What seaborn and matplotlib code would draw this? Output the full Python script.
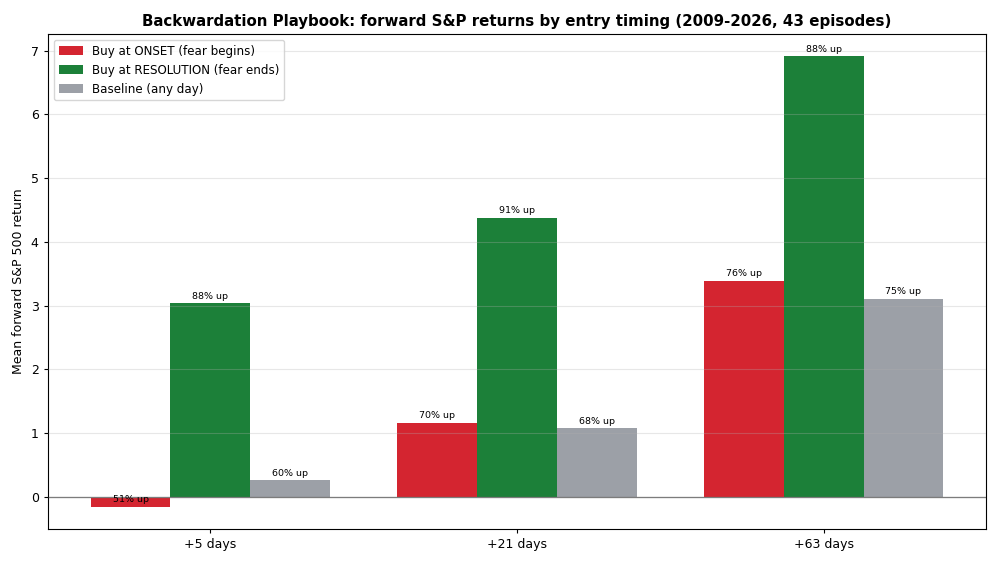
import pandas as pd
import matplotlib
matplotlib.use("Agg")
import matplotlib.pyplot as plt
import seaborn as sns

# ==============================
# DATA
# ==============================

horizons = ["+5 days", "+21 days", "+63 days"]
strategies = ["Buy at ONSET (fear begins)",
              "Buy at RESOLUTION (fear ends)",
              "Baseline (any day)"]

onset_ret = [-0.15, 1.16, 3.39]
resolution_ret = [3.04, 4.38, 6.91]
baseline_ret = [0.26, 1.08, 3.11]

onset_up = ["51% up", "70% up", "76% up"]
resolution_up = ["88% up", "91% up", "88% up"]
baseline_up = ["60% up", "68% up", "75% up"]

colors = ["#d42530", "#1c8039", "#9ca0a7"]

# ==============================
# TABLE LONGUE
# ==============================

rows = []
for strat, vals, ups in zip(strategies,
                            [onset_ret, resolution_ret, baseline_ret],
                            [onset_up, resolution_up, baseline_up]):
    for h, v, u in zip(horizons, vals, ups):
        rows.append({"horizon": h, "strategy": strat, "ret": v, "up": u})
df = pd.DataFrame(rows)

# ==============================
# FIGURE
# ==============================

fig, ax = plt.subplots(figsize=(10, 5.64), dpi=100)
fig.subplots_adjust(left=0.048, right=0.986, top=0.94, bottom=0.062)

sns.barplot(
    data=df, x="horizon", y="ret", hue="strategy",
    order=horizons, hue_order=strategies, palette=colors,
    width=0.78, gap=0, errorbar=None, saturation=1, ax=ax
)

# etiquettes "% up"
for strat, cont in zip(strategies, ax.containers):
    sub = df[df["strategy"] == strat].set_index("horizon").loc[horizons]
    for bar, v, u in zip(cont, sub["ret"], sub["up"]):
        ax.text(bar.get_x() + bar.get_width() / 2, v + 0.04, u,
                ha="center", va="bottom", fontsize=6.8)

ax.axhline(0, color="#666666", linewidth=0.9)
ax.grid(axis="y", alpha=0.3)
ax.set_axisbelow(False)
ax.set_xlim(-0.529, 2.529)
ax.tick_params(labelsize=9, length=3.2)

ax.set_title("Backwardation Playbook: forward S&P returns by entry timing (2009-2026, 43 episodes)",
             fontsize=10.8, fontweight="bold")
ax.set_ylabel("Mean forward S&P 500 return", fontsize=9)
ax.set_xlabel("")
ax.legend(loc="upper left", fontsize=8.6)

fig.savefig("out.png", dpi=100)
